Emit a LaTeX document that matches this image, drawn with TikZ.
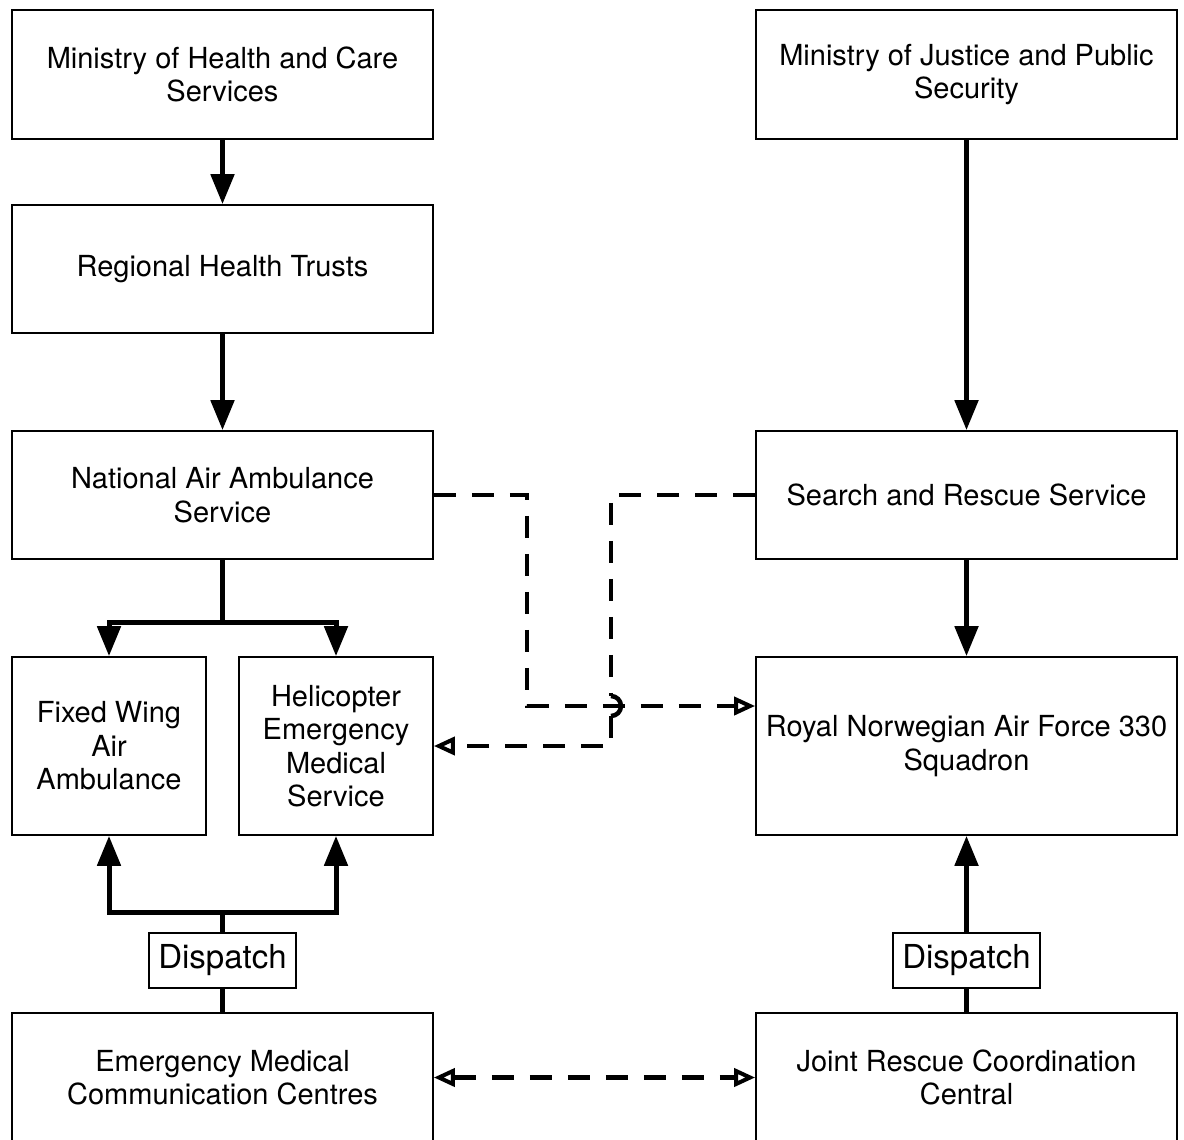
\documentclass[tikz,border=0pt]{standalone}
\usepackage{fontspec}
\setmainfont{TeX Gyre Heros}
\usetikzlibrary{arrows.meta}
\begin{document}
\begin{tikzpicture}[x=1pt,y=-1pt,
  box/.style={draw,line width=1.7pt,inner sep=0pt,align=center,font=\fontsize{29}{33.5}\selectfont},
  dbox/.style={draw,line width=1.7pt,inner sep=0pt,minimum width=147pt,minimum height=55pt,fill=white,font=\fontsize{33}{38}\selectfont},
  solidarrow/.style={line width=5pt,-{Triangle[length=30pt,width=23pt]}},
  solidline/.style={line width=5pt},
  opentip/.tip={Triangle[open,length=21pt,width=18pt,line width=4pt]},
  dasharrow/.style={line width=4.5pt,dash pattern=on 22pt off 16pt,-opentip},
  dashline/.style={line width=4.5pt,dash pattern=on 22pt off 16pt},
  hop/.style={line width=4.5pt}
]
\clip (0,0) rectangle (1184,1140);
\fill[white] (0,0) rectangle (1184,1140);
% boxes
\node[box,minimum width=421pt,minimum height=129pt] (moh) at (222.5,74.5) {Ministry of Health and Care\\Services};
\node[box,minimum width=421pt,minimum height=129pt] (moj) at (966.5,74.5) {Ministry of Justice and Public\\Security};
\node[box,minimum width=421pt,minimum height=128pt] (rht) at (222.5,269) {Regional Health Trusts};
\node[box,minimum width=421pt,minimum height=128pt] (naas) at (222.5,495) {National Air Ambulance\\Service};
\node[box,minimum width=421pt,minimum height=128pt] (sar) at (966.5,495) {Search and Rescue Service};
\node[box,minimum width=194pt,minimum height=178pt] (fw) at (109,746) {Fixed Wing\\Air\\Ambulance};
\node[box,minimum width=194pt,minimum height=178pt] (hems) at (336,746) {Helicopter\\Emergency\\Medical\\Service};
\node[box,minimum width=421pt,minimum height=178pt] (rnaf) at (966.5,746) {Royal Norwegian Air Force 330\\Squadron};
\node[box,minimum width=421pt,minimum height=129pt] (emcc) at (222.5,1077.5) {Emergency Medical\\Communication Centres};
\node[box,minimum width=421pt,minimum height=129pt] (jrcc) at (966.5,1077.5) {Joint Rescue Coordination\\Central};
\node[dbox] (d1) at (222.5,960.5) {Dispatch};
\node[dbox] (d2) at (966.5,960.5) {Dispatch};
\coordinate (split1) at (222.5,622);
\coordinate (join1) at (222.5,912);
% solid arrows
\draw[solidarrow] (moh) -- (rht);
\draw[solidarrow] (rht) -- (naas);
\draw[solidarrow] (moj) -- (sar);
\draw[solidarrow] (sar) -- (rnaf);
\draw[solidline] (naas.south) -- (split1);
\draw[solidarrow] (split1) -| (fw.north);
\draw[solidarrow] (split1) -| (hems.north);
\draw[solidline] (d1.north) -- (join1);
\draw[solidarrow] (join1) -| (fw.south);
\draw[solidarrow] (join1) -| (hems.south);
\draw[solidline] (emcc.north) -- (d1.south);
\draw[solidline] (jrcc.north) -- (d2.south);
\draw[solidarrow] (d2.north) -- (rnaf.south);
% dashed
\coordinate (a1) at (527,495);
\coordinate (a2) at (527,706);
\coordinate (b1) at (611,495);
\coordinate (b2) at (611,746);
\coordinate (h1) at (611,696);
\coordinate (h2) at (611,716);
\draw[dasharrow] (naas.east |- a1) -- (a1) -- (a2) -- (rnaf.west |- a2);
\draw[dashline] (sar.west |- b1) -- (b1) -- (h1);
\draw[hop] (h1) arc[start angle=90,end angle=-90,radius=10pt];
\draw[dasharrow] (h2) -- (b2) -- (hems.east |- b2);
\draw[dashline,opentip-opentip] (emcc.east) -- (jrcc.west);
\end{tikzpicture}
\end{document}
